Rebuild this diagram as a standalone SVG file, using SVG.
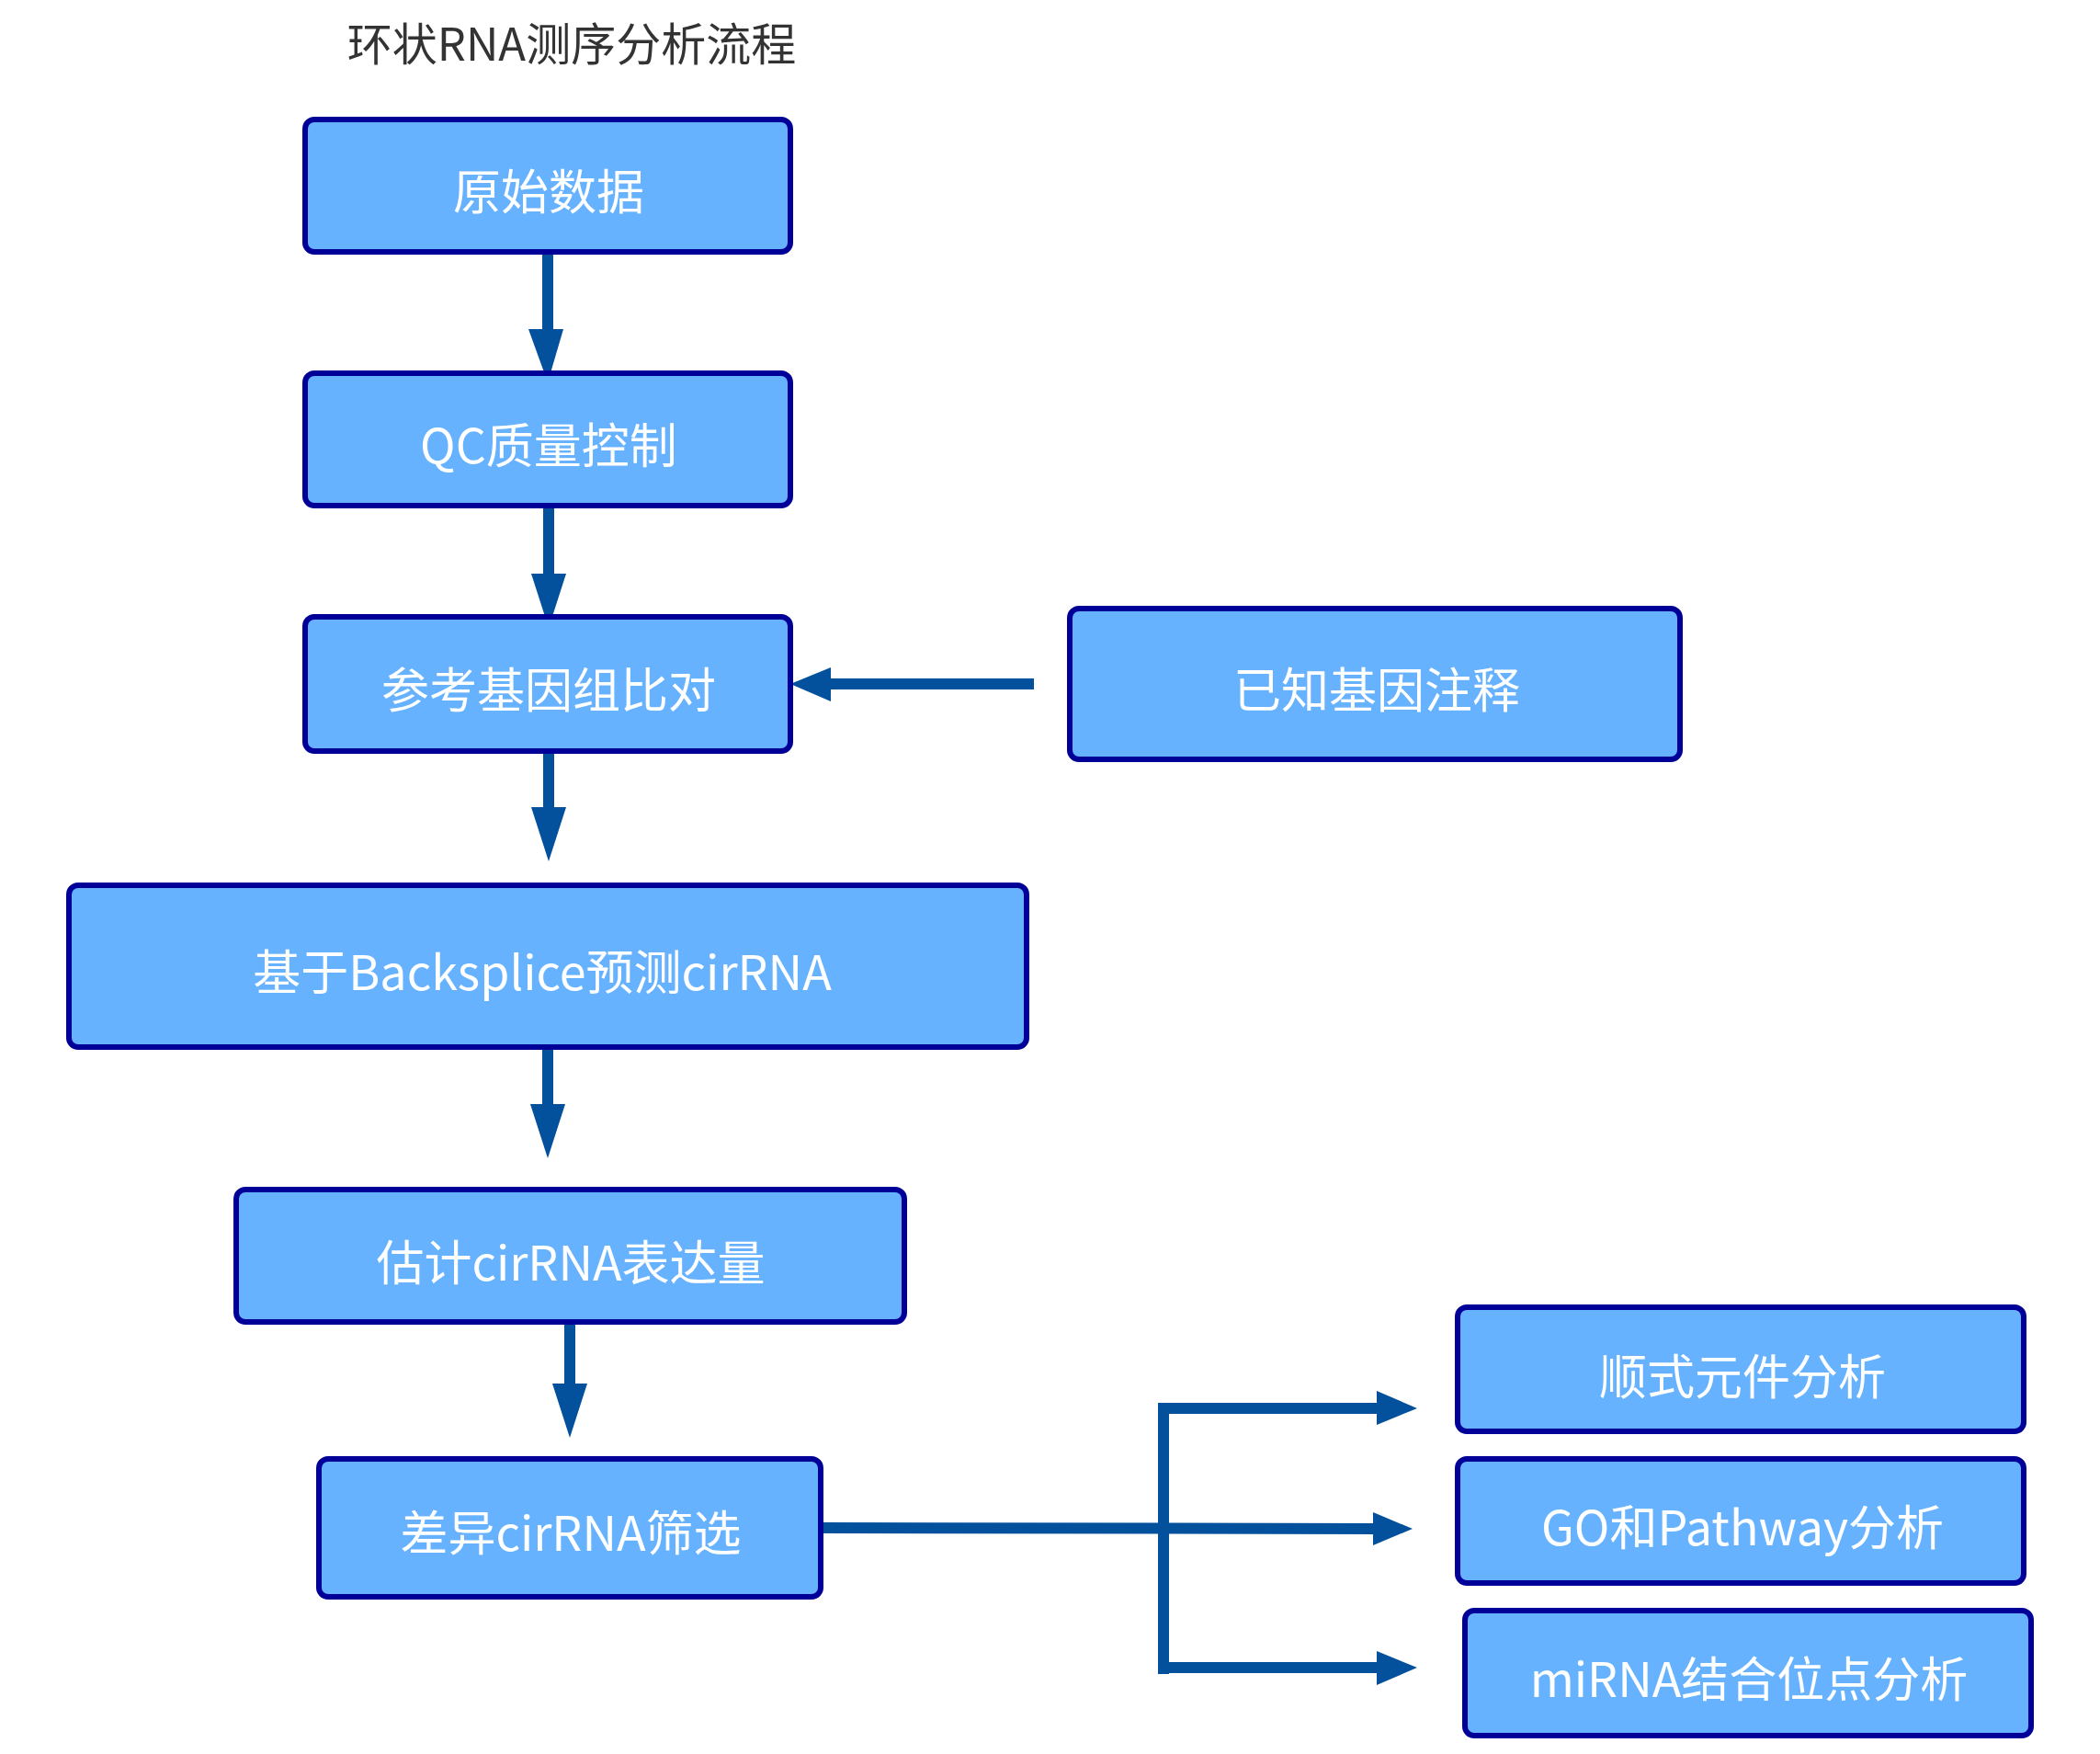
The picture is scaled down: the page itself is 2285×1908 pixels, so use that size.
<svg xmlns="http://www.w3.org/2000/svg" width="2285" height="1908" viewBox="0 0 2285 1908">
<style>
.box{fill:#66B2FF;stroke:#000099;stroke-width:6}
.lbl{font-family:"Microsoft YaHei","Noto Sans CJK SC","Noto Sans",sans-serif;font-size:52px;fill:#FFFFFF;text-anchor:middle}
.title{font-family:"Microsoft YaHei","Noto Sans CJK SC","Noto Sans",sans-serif;font-size:49px;fill:#333333;text-anchor:middle}
.ln{stroke:#03509C;stroke-width:12;fill:none}
.hd{fill:#03509C}
</style>
<rect width="2285" height="1908" fill="#FFFFFF"/>
<text class="title" x="622" y="66">环状RNA测序分析流程</text>
<g id="connectors">
<line class="ln" x1="596" y1="274" x2="596" y2="360"/>
<polygon class="hd" points="575,358 613,358 596,416"/>
<line class="ln" x1="597" y1="549" x2="597" y2="626"/>
<polygon class="hd" points="578,624 616,624 597,683"/>
<line class="ln" x1="597" y1="819" x2="597" y2="880"/>
<polygon class="hd" points="578,878 616,878 597,937"/>
<line class="ln" x1="596" y1="1140" x2="596" y2="1203"/>
<polygon class="hd" points="577,1201 615,1201 596,1260"/>
<line class="ln" x1="620" y1="1439" x2="620" y2="1507"/>
<polygon class="hd" points="601,1505 639,1505 620,1564"/>
<line class="ln" x1="1125" y1="744" x2="900" y2="744"/>
<polygon class="hd" points="904,726 904,763 860,744"/>
<line class="ln" x1="893" y1="1662" x2="1500" y2="1663"/>
<polygon class="hd" points="1494,1645 1494,1681 1537,1663"/>
<line class="ln" x1="1266" y1="1526" x2="1266" y2="1821"/>
<line class="ln" x1="1260" y1="1532" x2="1502" y2="1532"/>
<polygon class="hd" points="1498,1513 1498,1550 1542,1532"/>
<line class="ln" x1="1260" y1="1814" x2="1502" y2="1814"/>
<polygon class="hd" points="1498,1796 1498,1833 1542,1814"/>
</g>
<g id="n1"><rect class="box" x="332" y="130" width="528" height="144" rx="10"/><text class="lbl" x="597" y="228">原始数据</text></g>
<g id="n2"><rect class="box" x="332" y="406" width="528" height="144" rx="10"/><text class="lbl" x="597" y="504">QC质量控制</text></g>
<g id="n3"><rect class="box" x="332" y="671" width="528" height="146" rx="10"/><text class="lbl" x="597" y="770">参考基因组比对</text></g>
<g id="n4"><rect class="box" x="1164" y="662" width="664" height="164" rx="10"/><text class="lbl" x="1498" y="770">已知基因注释</text></g>
<g id="n5"><rect class="box" x="75" y="963" width="1042" height="176" rx="10"/><text class="lbl" x="590" y="1077">基于Backsplice预测cirRNA</text></g>
<g id="n6"><rect class="box" x="257" y="1294" width="727" height="144" rx="10"/><text class="lbl" x="621" y="1393">估计cirRNA表达量</text></g>
<g id="n7"><rect class="box" x="347" y="1587" width="546" height="150" rx="10"/><text class="lbl" x="621" y="1687">差异cirRNA筛选</text></g>
<g id="n8"><rect class="box" x="1586" y="1422" width="616" height="135" rx="10"/><text class="lbl" x="1896" y="1517">顺式元件分析</text></g>
<g id="n9"><rect class="box" x="1586" y="1587" width="616" height="135" rx="10"/><text class="lbl" x="1896" y="1681">GO和Pathway分析</text></g>
<g id="n10"><rect class="box" x="1594" y="1752" width="616" height="136" rx="10"/><text class="lbl" x="1903" y="1846">miRNA结合位点分析</text></g>
</svg>
